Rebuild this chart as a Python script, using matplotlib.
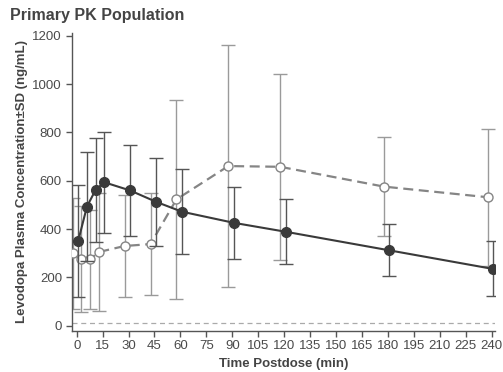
import matplotlib.pyplot as plt

# nominal sampling times (min)
times = [0, 5, 10, 15, 30, 45, 60, 90, 120, 180, 240]

# filled circles, solid line
dark_mean = [352, 493, 562, 594, 560, 513, 472, 426, 389, 312, 235]
dark_sd = [232, 227, 217, 210, 190, 183, 175, 148, 134, 108, 114]

# open circles, dashed line
open_mean = [300, 275, 275, 305, 330, 338, 523, 661, 658, 576, 532]
open_sd = [229, 219, 206, 244, 211, 210, 412, 502, 385, 205, 284]

lloq = 10
xticks = list(range(0, 241, 15))
yticks = list(range(0, 1201, 200))

plt.rcParams['font.family'] = ['Liberation Sans', 'DejaVu Sans']

fig = plt.figure(figsize=(5.03, 3.72), dpi=100)
ax = fig.add_axes([71.7 / 503, 1 - 330.7 / 372, (495 - 71.7) / 503, (330.7 - 33) / 372])

# small horizontal dodge so the two groups do not overlap
dark_x = [t + 0.9 for t in times]
open_x = [t - 2.3 for t in times]

ax.axhline(lloq, color='#aaaaaa', lw=0.9, ls=(0, (4, 3)), zorder=1)

ax.errorbar(open_x, open_mean, yerr=open_sd, fmt='none', ecolor='#9a9a9a',
            elinewidth=1.0, capsize=5, capthick=1.0, zorder=2)
ax.plot(open_x, open_mean, color='#858585', lw=1.6, ls=(0, (4.5, 2.5)),
        marker='o', ms=6.5, mfc='white', mec='#858585', mew=1.0, zorder=3)

ax.errorbar(dark_x, dark_mean, yerr=dark_sd, fmt='none', ecolor='#555555',
            elinewidth=1.0, capsize=5, capthick=1.0, zorder=4)
ax.plot(dark_x, dark_mean, color='#3a3a3a', lw=1.5, marker='o', ms=7,
        mfc='#3a3a3a', mec='#3a3a3a', zorder=5)

ax.set_xlim(-2.9, 242)
ax.set_ylim(-20.7, 1212)
ax.set_xticks(xticks)
ax.set_yticks(yticks)
ax.spines['top'].set_visible(False)
ax.spines['right'].set_visible(False)
for s in ('left', 'bottom'):
    ax.spines[s].set_color('#555555')
    ax.spines[s].set_linewidth(1.0)
ax.tick_params(axis='both', colors='#555555', labelcolor='#4a4a4a',
               labelsize=9.5, length=4, width=1.0, pad=3)

ax.set_xlabel('Time Postdose (min)', fontsize=9.5, fontweight='bold',
              color='#444444', labelpad=4)
ax.set_ylabel('Levodopa Plasma Concentration\u00b1SD (ng/mL)', fontsize=9.5,
              fontweight='bold', color='#444444', labelpad=3)

fig.text(10 / 503, 1 - 8 / 372, 'Primary PK Population', fontsize=11.5,
         fontweight='bold', color='#444444', ha='left', va='top')

fig.savefig('out.png', dpi=100)
